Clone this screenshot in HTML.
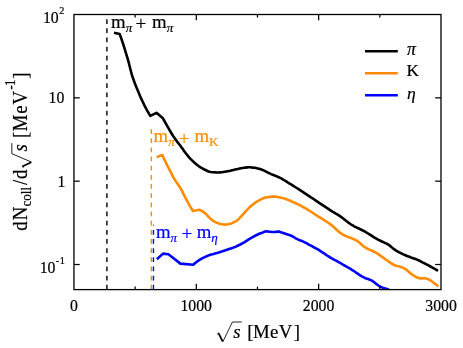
<!DOCTYPE html>
<html>
<head>
<meta charset="utf-8">
<title>dNcoll/dsqrt(s)</title>
<style>
html, body { margin: 0; padding: 0; background: #ffffff; }
body { width: 463px; height: 348px; overflow: hidden; }
svg { display: block; will-change: transform; }
svg text { font-family: "Liberation Serif", serif; stroke-width: 0.2px; stroke-linejoin: round; }
</style>
</head>
<body>
<svg width="463" height="348" viewBox="0 0 463 348">
<rect x="0" y="0" width="463" height="348" fill="#ffffff"/>
<defs><clipPath id="clip"><rect x="73.95" y="14.5" width="367.05" height="275.1"/></clipPath></defs>

<!-- threshold dashed lines -->
<line x1="106.9" y1="289.6" x2="106.9" y2="14.5" stroke="#000000" stroke-width="1.4" stroke-dasharray="4.75 4.41"/>
<line x1="151.35" y1="289.6" x2="151.35" y2="129.0" stroke="#ff8c00" stroke-width="1.4" stroke-dasharray="4.75 4.41"/>
<line x1="153.45" y1="289.6" x2="153.45" y2="224.7" stroke="#0000ff" stroke-width="1.4" stroke-dasharray="4.75 4.41"/>

<!-- curves -->
<g clip-path="url(#clip)" fill="none" stroke-width="2.6" stroke-linejoin="round" stroke-linecap="butt">
<path d="M156.9,259.2 L163.0,253.6 L168.4,254.3 L180.4,263.6 L193.2,264.8 L194.7,263.5 L196.2,262.3 L197.7,261.1 L199.2,260.1 L200.7,259.2 L202.2,258.3 L203.7,257.6 L205.2,256.9 L206.7,256.2 L208.2,255.6 L209.7,255.1 L211.2,254.6 L212.7,254.2 L214.2,253.7 L215.7,253.3 L217.2,252.9 L218.7,252.4 L220.2,252.0 L221.7,251.5 L223.2,251.1 L224.7,250.6 L226.2,250.1 L227.7,249.6 L229.2,249.1 L230.7,248.6 L232.2,248.1 L233.7,247.5 L235.2,246.9 L236.7,246.2 L238.2,245.5 L239.7,244.8 L241.2,244.0 L242.7,243.2 L244.2,242.3 L245.7,241.3 L247.2,240.4 L248.7,239.4 L250.2,238.5 L251.7,237.7 L253.2,236.8 L254.7,236.0 L256.2,235.2 L257.7,234.5 L259.2,233.8 L260.7,233.2 L262.2,232.7 L263.7,232.1 L265.2,231.6 L266.7,231.2 L268.4,231.6 L270.1,231.8 L271.8,232.0 L273.5,232.0 L275.2,231.9 L276.9,231.7 L278.6,231.4 L280.1,231.9 L281.6,232.4 L283.1,232.9 L284.6,233.4 L286.2,233.9 L287.7,234.4 L289.2,235.0 L290.7,235.5 L292.2,236.2 L293.7,237.0 L295.2,238.0 L296.7,238.9 L298.3,239.6 L299.8,240.2 L301.3,240.7 L302.8,241.4 L304.3,242.1 L305.8,242.9 L307.3,243.7 L308.8,244.6 L310.4,245.4 L311.9,246.2 L313.4,247.0 L314.9,247.8 L316.4,248.6 L317.9,249.4 L319.4,250.3 L320.9,251.3 L322.4,252.3 L324.0,253.3 L325.5,254.4 L327.0,255.5 L328.5,256.4 L330.0,257.3 L331.5,258.2 L333.0,259.1 L334.5,259.9 L336.1,260.7 L337.6,261.5 L339.1,262.4 L340.6,263.2 L342.1,264.1 L343.6,265.0 L345.1,265.8 L346.6,266.7 L348.2,267.6 L349.7,268.4 L351.2,269.3 L352.7,270.3 L354.2,271.2 L355.7,272.3 L357.2,273.3 L358.7,274.4 L360.2,275.4 L361.8,276.3 L363.3,277.1 L364.8,277.9 L366.3,278.4 L367.8,278.9 L369.3,279.5 L370.8,280.1 L372.3,280.9 L373.9,282.0 L375.4,283.2 L376.9,284.4 L378.4,285.5 L379.9,286.4 L381.4,287.1 L382.9,287.7 L384.4,288.2 L386.0,288.7 L387.5,289.3 L389.0,290.0 L390.5,290.7 L392.0,291.5" stroke="#0000ff"/>
<path d="M156.7,157.1 L162.3,155.0 L163.8,158.3 L165.4,161.5 L166.9,164.6 L168.4,167.7 L170.0,170.7 L171.5,173.7 L173.0,176.6 L174.6,179.4 L176.1,181.8 L177.7,184.0 L179.2,186.2 L180.7,188.5 L182.3,191.4 L183.8,194.7 L185.3,197.6 L186.9,200.5 L188.4,203.4 L189.9,206.1 L191.5,208.6 L193.0,211.1 L199.4,209.7 L200.9,210.5 L202.4,211.4 L203.9,212.4 L205.4,213.5 L206.9,214.9 L208.4,216.6 L209.9,218.2 L211.4,219.5 L212.9,220.6 L214.4,221.6 L215.9,222.4 L217.4,223.1 L218.9,223.5 L220.4,223.9 L221.9,224.2 L223.4,224.5 L224.9,224.6 L226.4,224.5 L227.9,224.3 L229.5,223.9 L231.0,223.5 L232.5,222.9 L234.0,222.2 L235.5,221.4 L237.0,220.5 L238.5,219.2 L240.0,217.7 L241.5,216.0 L243.0,214.4 L244.5,212.7 L246.0,211.0 L247.5,209.3 L249.0,207.8 L250.5,206.5 L252.0,205.2 L253.5,204.0 L255.0,202.9 L256.5,201.9 L258.0,201.0 L259.5,200.1 L261.0,199.3 L262.5,198.6 L264.0,198.0 L265.5,197.6 L267.0,197.3 L268.5,197.1 L270.0,196.9 L271.5,196.7 L273.0,196.6 L274.5,196.6 L276.0,196.7 L277.5,196.9 L279.0,197.2 L280.5,197.5 L282.0,197.9 L283.5,198.3 L285.0,198.7 L286.5,199.3 L288.0,199.9 L289.6,200.5 L291.1,201.2 L292.6,201.9 L294.1,202.5 L295.6,203.2 L297.1,203.9 L298.6,204.6 L300.1,205.4 L301.6,206.2 L303.1,206.9 L304.6,207.8 L306.1,208.6 L307.6,209.6 L309.1,210.5 L310.6,211.5 L312.1,212.5 L313.6,213.5 L315.1,214.5 L316.6,215.4 L318.1,216.4 L319.6,217.3 L321.1,218.2 L322.6,219.1 L324.1,220.1 L325.6,221.0 L327.1,222.0 L328.6,223.0 L330.1,224.1 L331.6,225.2 L333.1,226.5 L334.6,227.8 L336.1,229.2 L337.6,230.6 L339.1,231.9 L340.6,233.1 L342.1,234.1 L343.6,235.0 L345.1,235.7 L346.6,236.4 L348.1,237.0 L349.7,237.6 L351.2,238.1 L352.7,238.7 L354.2,239.4 L355.7,240.1 L357.2,240.9 L358.7,242.0 L360.2,243.3 L361.7,244.7 L363.2,246.0 L364.7,247.1 L366.2,248.0 L367.7,248.8 L369.2,249.5 L370.7,250.1 L372.2,250.8 L373.7,251.5 L375.2,252.3 L376.7,253.1 L378.2,254.1 L379.7,255.1 L381.2,256.2 L382.7,257.3 L384.2,258.4 L385.7,259.5 L387.2,260.5 L388.7,261.5 L390.2,262.6 L391.7,263.6 L393.2,264.5 L394.7,265.2 L396.2,265.7 L397.7,266.1 L399.2,266.4 L400.7,266.9 L402.2,267.5 L403.7,268.1 L405.2,268.9 L406.7,269.9 L408.2,271.2 L409.8,272.7 L411.3,273.9 L412.8,275.0 L414.3,276.0 L415.8,276.8 L417.3,277.5 L418.8,278.0 L420.3,278.4 L421.8,278.4 L423.3,278.3 L424.8,278.3 L426.3,278.5 L427.8,279.1 L429.3,279.8 L430.8,280.7 L432.3,281.8 L433.8,282.9 L435.3,284.1 L436.8,285.3 L438.3,286.6" stroke="#ff8c00"/>
<path d="M114.0,32.8 L119.7,34.1 L121.2,38.3 L122.8,42.9 L124.3,47.6 L125.8,52.6 L127.4,57.8 L128.9,63.2 L130.4,69.3 L131.9,75.0 L133.5,79.6 L135.0,83.7 L136.5,87.5 L138.1,91.2 L139.6,94.9 L141.1,98.4 L142.7,101.7 L144.2,104.9 L145.7,107.8 L147.2,110.6 L148.8,113.3 L150.3,115.8 L156.5,112.8 L162.9,118.3 L164.4,121.0 L165.9,123.7 L167.4,126.3 L168.9,128.9 L170.4,131.5 L171.9,134.0 L173.4,136.4 L174.9,138.6 L176.4,140.6 L177.9,142.6 L179.4,144.5 L180.9,146.4 L182.4,148.5 L183.9,150.7 L185.4,152.8 L187.0,154.8 L188.5,156.6 L190.0,158.3 L191.5,159.9 L193.0,161.3 L194.5,162.7 L196.0,164.0 L197.5,165.2 L199.0,166.3 L200.5,167.3 L202.0,168.2 L203.5,169.0 L205.0,169.8 L206.5,170.5 L208.0,171.2 L209.5,171.7 L211.0,172.0 L212.5,172.2 L214.0,172.3 L215.5,172.4 L217.0,172.5 L218.5,172.5 L220.0,172.4 L221.5,172.3 L223.0,172.1 L224.5,171.8 L226.0,171.6 L227.5,171.3 L229.0,171.0 L230.5,170.7 L232.1,170.3 L233.6,169.9 L235.1,169.5 L236.6,169.2 L238.1,168.9 L239.6,168.6 L241.1,168.3 L242.6,168.0 L244.1,167.8 L245.6,167.6 L247.1,167.4 L248.6,167.3 L250.1,167.3 L251.6,167.5 L253.1,167.6 L254.6,167.8 L256.1,168.1 L257.6,168.4 L259.1,168.8 L260.6,169.3 L262.1,169.8 L263.6,170.4 L265.1,171.1 L266.6,171.9 L268.1,172.7 L269.6,173.4 L271.1,174.1 L272.6,174.7 L274.1,175.3 L275.6,175.9 L277.1,176.5 L278.7,177.2 L280.2,177.9 L281.7,178.7 L283.2,179.6 L284.7,180.5 L286.2,181.4 L287.7,182.4 L289.2,183.3 L290.7,184.2 L292.2,185.1 L293.7,186.1 L295.2,187.0 L296.7,188.0 L298.2,188.9 L299.7,189.9 L301.2,190.9 L302.7,191.8 L304.2,192.8 L305.7,193.8 L307.2,194.8 L308.7,195.8 L310.2,196.8 L311.7,197.8 L313.2,198.7 L314.7,199.8 L316.2,200.8 L317.7,201.8 L319.2,202.8 L320.7,203.8 L322.2,204.8 L323.8,205.9 L325.3,206.9 L326.8,207.9 L328.3,208.9 L329.8,209.9 L331.3,210.9 L332.8,211.8 L334.3,212.7 L335.8,213.6 L337.3,214.4 L338.8,215.4 L340.3,216.4 L341.8,217.4 L343.3,218.6 L344.8,219.7 L346.3,220.9 L347.8,222.1 L349.3,223.2 L350.8,224.3 L352.3,225.2 L353.8,226.1 L355.3,226.9 L356.8,227.6 L358.3,228.3 L359.8,229.0 L361.3,229.7 L362.8,230.5 L364.3,231.2 L365.8,232.1 L367.3,233.0 L368.8,234.0 L370.4,234.9 L371.9,235.9 L373.4,236.9 L374.9,237.8 L376.4,238.7 L377.9,239.6 L379.4,240.3 L380.9,241.0 L382.4,241.7 L383.9,242.4 L385.4,243.1 L386.9,243.8 L388.4,244.7 L389.9,245.7 L391.4,247.0 L392.9,248.2 L394.4,249.4 L395.9,250.5 L397.4,251.3 L398.9,252.2 L400.4,252.9 L401.9,253.7 L403.4,254.4 L404.9,255.0 L406.4,255.7 L407.9,256.3 L409.4,256.8 L410.9,257.4 L412.4,257.9 L413.9,258.4 L415.5,259.0 L417.0,259.6 L418.5,260.3 L420.0,261.0 L421.5,261.8 L423.0,262.6 L424.5,263.3 L426.0,264.1 L427.5,264.9 L429.0,265.7 L430.5,266.5 L432.0,267.3 L433.5,268.2 L435.0,269.0 L436.5,269.9 L438.0,270.8" stroke="#000000"/>
</g>

<!-- frame and ticks -->
<rect x="73.95" y="14.5" width="367.05" height="275.1" fill="none" stroke="#000000" stroke-width="1.3"/>
<g stroke="#000000" stroke-width="1.25">
<line x1="135.12" y1="289.6" x2="135.12" y2="286.6"/>
<line x1="135.12" y1="14.5" x2="135.12" y2="17.5"/>
<line x1="196.30" y1="289.6" x2="196.30" y2="283.8"/>
<line x1="196.30" y1="14.5" x2="196.30" y2="20.3"/>
<line x1="257.48" y1="289.6" x2="257.48" y2="286.6"/>
<line x1="257.48" y1="14.5" x2="257.48" y2="17.5"/>
<line x1="318.65" y1="289.6" x2="318.65" y2="283.8"/>
<line x1="318.65" y1="14.5" x2="318.65" y2="20.3"/>
<line x1="379.82" y1="289.6" x2="379.82" y2="286.6"/>
<line x1="379.82" y1="14.5" x2="379.82" y2="17.5"/>
<line x1="73.95" y1="97.84" x2="79.75" y2="97.84"/>
<line x1="441.0" y1="97.84" x2="435.2" y2="97.84"/>
<line x1="73.95" y1="181.18" x2="79.75" y2="181.18"/>
<line x1="441.0" y1="181.18" x2="435.2" y2="181.18"/>
<line x1="73.95" y1="264.51" x2="79.75" y2="264.51"/>
<line x1="441.0" y1="264.51" x2="435.2" y2="264.51"/>
</g>

<!-- threshold labels -->
<g fill="#000000" stroke="#000000"><text x="111.10 151.90" y="27.7" font-size="18.8">mm</text><text x="125.70" y="31.70" font-size="13.1" font-style="italic">π</text><text x="140.90" y="30.30" font-size="19.2" text-anchor="middle">+</text><text x="166.80" y="31.70" font-size="13.1" font-style="italic">π</text></g>
<g fill="#ff8c00" stroke="#ff8c00"><text x="153.60 194.40" y="142.0" font-size="18.8">mm</text><text x="168.20" y="146.00" font-size="13.1" font-style="italic">π</text><text x="184.20" y="144.60" font-size="19.2" text-anchor="middle">+</text><text x="208.90" y="146.00" font-size="13.1">K</text></g>
<g fill="#0000ff" stroke="#0000ff"><text x="155.90 196.70" y="237.7" font-size="18.8">mm</text><text x="170.50" y="241.70" font-size="13.1" font-style="italic">π</text><text x="186.80" y="240.30" font-size="19.2" text-anchor="middle">+</text><text x="211.20" y="241.70" font-size="13.1" font-style="italic">η</text></g>

<!-- legend -->
<g stroke-width="2.5" fill="none">
<line x1="365.0" y1="51.2" x2="397.8" y2="51.2" stroke="#000000"/>
<line x1="365.0" y1="73.3" x2="397.8" y2="73.3" stroke="#ff8c00"/>
<line x1="365.0" y1="95.3" x2="397.8" y2="95.3" stroke="#0000ff"/>
</g>
<g fill="#000000" stroke="#000000">
<text x="407.0" y="55.2" font-size="17.8" font-style="italic">π</text>
<text x="406.5" y="76.3" font-size="17.2">K</text>
<text x="407.0" y="98.8" font-size="17.6" font-style="italic">η</text>
</g>

<!-- x tick labels -->
<g font-size="15.75" fill="#000000" stroke="#000000" text-anchor="middle">
<text x="74.0" y="310.7">0</text>
<text x="196.2" y="310.7">1000</text>
<text x="318.5" y="310.7">2000</text>
<text x="441.1" y="310.7">3000</text>
</g>

<!-- y tick labels -->
<g font-size="15.75" fill="#000000" stroke="#000000" text-anchor="end">
<text x="64.5" y="23.0">10<tspan font-size="10.3" dy="-9.4" dx="0.6">2</tspan></text>
<text x="64.3" y="103.1">10</text>
<text x="65.3" y="187.1">1</text>
<text x="65.0" y="273.2">10<tspan font-size="10.3" dy="-9.7" dx="0.4">-</tspan><tspan font-size="10.3" dx="0.6">1</tspan></text>
</g>

<!-- x axis label -->
<g fill="#000000" stroke="#000000">
<path d="M217.10,334.20 L218.80,332.90" fill="none" stroke="#000" stroke-width="0.8"/><path d="M218.50,333.10 L222.70,341.50" fill="none" stroke="#000" stroke-width="1.7"/><path d="M222.80,341.80 L232.40,322.00 L241.80,322.00" fill="none" stroke="#000" stroke-width="0.85" stroke-linejoin="miter"/>
<text x="233.2" y="337.5" font-size="18.8" font-style="italic">s</text>
<text x="247.3 252.9 270.0 278.7 293.8" y="337.6" font-size="18.8">[MeV]</text>
</g>

<!-- y axis label -->
<g transform="translate(27.0,230.8) rotate(-90) scale(1,1.06)" fill="#000000" stroke="#000000">
<text x="0 10.6" y="0" font-size="18.8">dN</text>
<text x="24.3" y="3.8" font-size="13.1">coll</text>
<text x="45.8" y="0" font-size="18.8">/</text>
<text x="51.9" y="0" font-size="18.8">d</text>
<path d="M63.00,-3.30 L64.70,-4.60" fill="none" stroke="#000" stroke-width="0.8"/><path d="M64.40,-4.40 L68.60,4.00" fill="none" stroke="#000" stroke-width="1.7"/><path d="M68.70,4.30 L77.10,-14.30 L87.70,-14.30" fill="none" stroke="#000" stroke-width="0.85" stroke-linejoin="miter"/>
<text x="79.3" y="0" font-size="18.8" font-style="italic">s</text>
<text x="92.7 99.6 117.0 126.2" y="0" font-size="18.8">[MeV</text>
<text x="141.1 144.9" y="-11.3" font-size="13.1">-1</text>
<text x="152.0" y="0" font-size="18.8">]</text>
</g>
</svg>
</body>
</html>
